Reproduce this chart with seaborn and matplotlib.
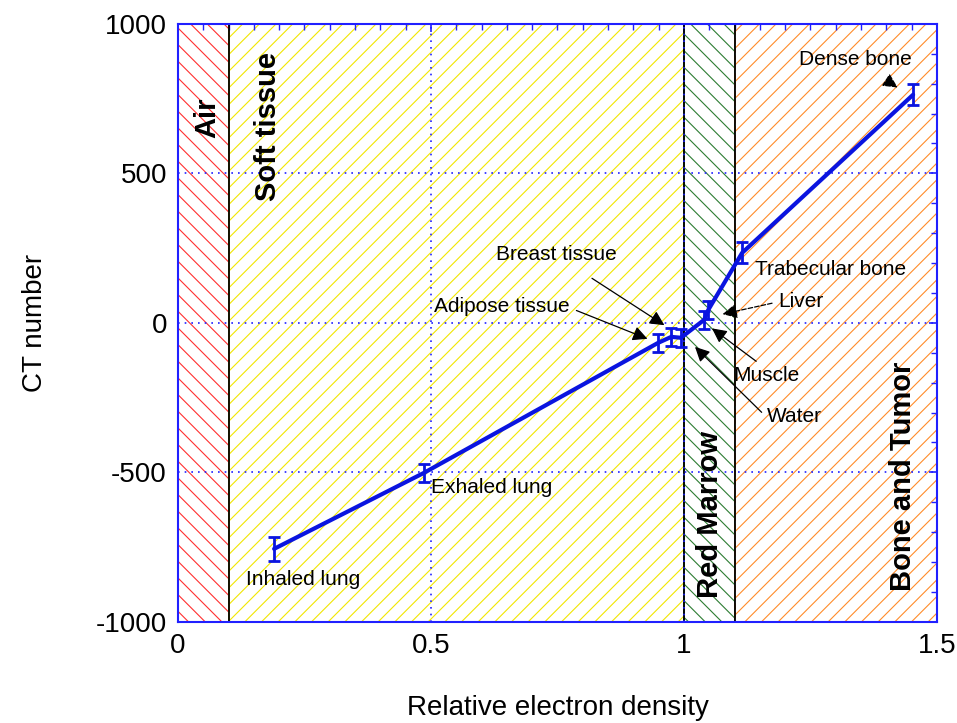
import matplotlib
matplotlib.use("Agg")
import matplotlib.pyplot as plt
from matplotlib.ticker import MultipleLocator
import pandas as pd
import seaborn as sns

# measured tissues: relative electron density vs CT number
tissues = ["Inhaled lung", "Exhaled lung", "Adipose tissue", "Breast tissue", "Water",
           "Muscle", "Liver", "Trabecular bone", "Dense bone"]
density = [0.19, 0.486, 0.949, 0.975, 0.994, 1.040, 1.048, 1.115, 1.453]
ct_number = [-756, -502, -67, -47, -50, 10, 43, 234, 763]
ct_error = [40, 30, 30, 30, 30, 30, 30, 35, 35]

# tissue regions along the density axis
region_names = ["Air", "Soft tissue", "Red Marrow", "Bone and Tumor"]
region_start = [0.0, 0.1, 1.0, 1.1]
region_end = [0.1, 1.0, 1.1, 1.5]
region_colors = ["#ff3030", "#f2e600", "#2e7d32", "#ff8c2a"]
region_hatch = ["\\\\", "//", "\\\\", "//"]

sns.set_theme(style="white")
plt.rcParams["font.family"] = ["Liberation Sans", "DejaVu Sans"]
plt.rcParams["hatch.linewidth"] = 0.8
plt.rcParams["axes.unicode_minus"] = False

df = pd.DataFrame({"density": density, "ct": ct_number, "err": ct_error, "tissue": tissues})

fig = plt.figure(figsize=(9.57, 7.23), dpi=100)
ax = fig.add_axes([0.186, 0.140, 0.793, 0.827])

for name, x0, x1, col, h in zip(region_names, region_start, region_end, region_colors, region_hatch):
    ls = "--" if name == "Bone and Tumor" else "-"
    ax.axvspan(x0, x1, facecolor="white", edgecolor=col, hatch=h, linewidth=1.2,
               linestyle=ls, zorder=0)
for xb in [0.1, 1.0, 1.1]:
    ax.axvline(xb, color="black", lw=1.3, zorder=1)

# dotted grid
for xg in [0.5, 1.0]:
    ax.axvline(xg, color="#2020ff", lw=1.2, ls=(0, (1, 3)), zorder=1)
for yg in [-500, 0, 500]:
    ax.axhline(yg, color="#2020ff", lw=1.2, ls=(0, (1, 3)), zorder=1)

sns.lineplot(data=df, x="density", y="ct", color="#0a14e0", lw=3, sort=False,
             estimator=None, ax=ax, zorder=3)
ax.errorbar(df["density"], df["ct"], yerr=df["err"], fmt="none", ecolor="#0a14e0",
            elinewidth=2, capsize=4, capthick=2, zorder=4)

# region labels
lab_kw = dict(rotation=90, fontsize=21, fontweight="bold", ha="center", va="center", color="black")
ax.text(0.057, 686, "Air", **lab_kw)
ax.text(0.178, 656, "Soft tissue", **lab_kw)
ax.text(1.052, -642, "Red Marrow", **lab_kw)
ax.text(1.433, -512, "Bone and Tumor", **lab_kw)

# tissue annotations
fs = 15
arrow = dict(arrowstyle="-|>", color="black", lw=0.9, mutation_scale=22)
ax.text(0.134, -860, "Inhaled lung", fontsize=fs, ha="left", va="center", color="black")
ax.text(0.50, -552, "Exhaled lung", fontsize=fs, ha="left", va="center", color="black")
ax.text(1.140, 177, "Trabecular bone", fontsize=fs, ha="left", va="center", color="black")
ax.annotate("Dense bone", xy=(1.427, 782), xytext=(1.338, 880), fontsize=fs,
            ha="center", va="center", color="black",
            arrowprops=dict(arrow, linestyle="--", shrinkA=12))
ax.annotate("Breast tissue", xy=(0.966, -13), xytext=(0.747, 227), fontsize=fs,
            ha="center", va="center", color="black", arrowprops=dict(arrow, shrinkA=14))
ax.annotate("Adipose tissue", xy=(0.933, -57), xytext=(0.640, 54), fontsize=fs,
            ha="center", va="center", color="black",
            arrowprops=dict(arrow, shrinkA=0, relpos=(1.05, 0.3)))
ax.annotate("Liver", xy=(1.071, 27), xytext=(1.186, 70), fontsize=fs,
            ha="left", va="center", color="black",
            arrowprops=dict(arrow, linestyle="--", relpos=(0, 0.5)))
ax.annotate("Muscle", xy=(1.051, -13), xytext=(1.097, -177), fontsize=fs,
            ha="left", va="center", color="black",
            arrowprops=dict(arrow, relpos=(0.45, 1.0)))
ax.annotate("Water", xy=(1.018, -74), xytext=(1.164, -314), fontsize=fs,
            ha="left", va="center", color="black",
            arrowprops=dict(arrow, relpos=(-0.05, 0.6)))

ax.set_xlim(0, 1.5)
ax.set_ylim(-1000, 1000)
ax.set_xticks([0, 0.5, 1, 1.5])
ax.set_xticklabels(["0", "0.5", "1", "1.5"])
ax.set_yticks([-1000, -500, 0, 500, 1000])
ax.xaxis.set_minor_locator(MultipleLocator(0.05))
ax.yaxis.set_minor_locator(MultipleLocator(100))
ax.tick_params(which="both", direction="in", top=True, right=True, color="#2020ff",
               labelsize=20, labelcolor="black")
ax.tick_params(which="major", length=6, width=1.2, pad=8)
ax.tick_params(which="minor", length=4, width=1.0)
for sp in ax.spines.values():
    sp.set_color("#2020ff")
    sp.set_linewidth(1.5)
    sp.set_zorder(5)

ax.set_xlabel("Relative electron density", fontsize=20, labelpad=26, color="black")
ax.set_ylabel("CT number", fontsize=20, labelpad=34, color="black")

fig.savefig("out.png", dpi=100)
